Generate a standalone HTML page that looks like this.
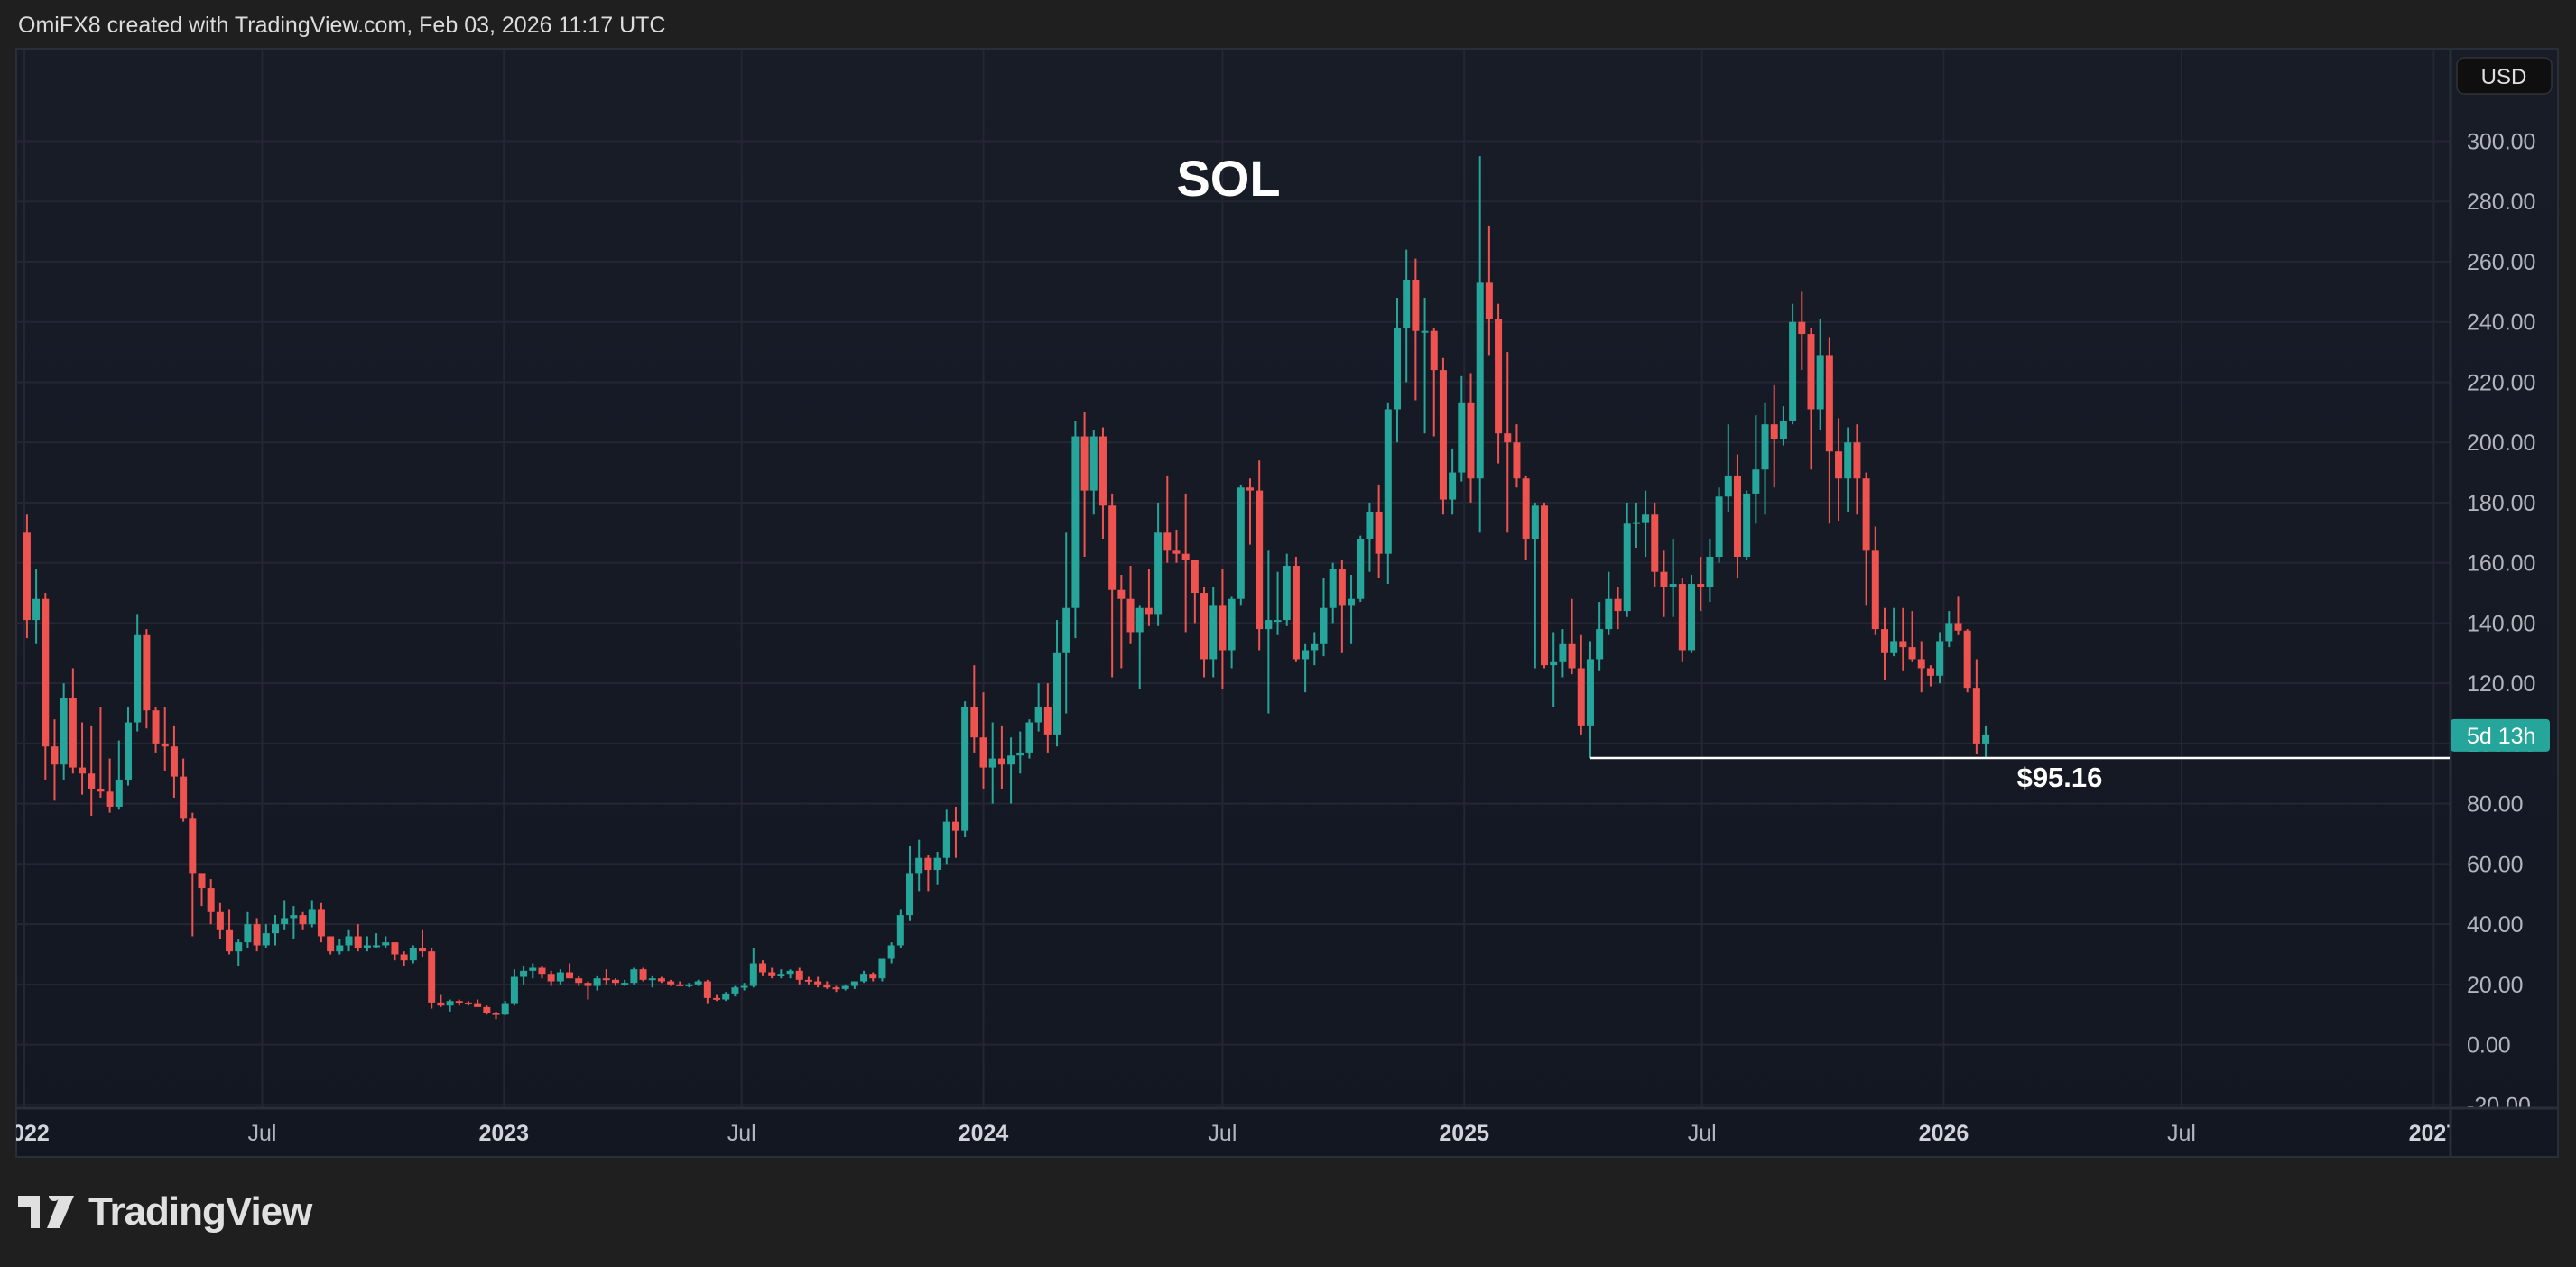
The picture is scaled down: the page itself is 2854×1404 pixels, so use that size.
<!DOCTYPE html>
<html><head><meta charset="utf-8"><style>
html,body{margin:0;padding:0;background:#1f1f1f;}
body{width:2854px;height:1404px;overflow:hidden;position:relative;font-family:"Liberation Sans",sans-serif;}
#hdr{position:absolute;left:20px;top:14px;font-size:25px;color:#dcdcdc;}
#logo{position:absolute;left:20px;top:1318px;display:flex;align-items:center;}
#logo span{font-size:44px;font-weight:bold;color:#e0e0e0;margin-left:14px;letter-spacing:-1px;}
</style></head><body>
<div id="hdr">OmiFX8 created with TradingView.com, Feb 03, 2026 11:17 UTC</div>
<svg id="chart" width="2854" height="1404" style="position:absolute;left:0;top:0" xmlns="http://www.w3.org/2000/svg">
<defs>
<linearGradient id="bg" x1="0" y1="0" x2="0" y2="1"><stop offset="0" stop-color="#181c27"/><stop offset="1" stop-color="#131722"/></linearGradient>
<clipPath id="plotclip"><rect x="18" y="55" width="2696" height="1172"/></clipPath>
<clipPath id="axclip"><rect x="2715" y="55" width="118" height="1172"/></clipPath>
<clipPath id="tclip"><rect x="18" y="1228" width="2696" height="53"/></clipPath>
</defs>
<rect x="18" y="54" width="2816" height="1228" fill="url(#bg)" stroke="#2a2e39" stroke-width="2"/>
<g id="grid" clip-path="url(#plotclip)"></g>
<g id="candles" clip-path="url(#plotclip)"></g>
<g id="yaxis" clip-path="url(#axclip)"></g>
<g id="xaxis" clip-path="url(#tclip)"></g>
<g id="anno"></g>
</svg>
<div id="logo">
<svg width="64" height="36" viewBox="0 0 64 36"><path d="M0 0H24V36H14V12H0Z M34 0a6 6 0 1 1 0 .1Z M46 0H62L46 36H32Z" fill="#e0e0e0"/></svg>
<span>TradingView</span></div>
<script>
// weekly candles starting Monday 2022-01-03
const firstOpen = 170;
const highs = [
176,158,150,108,120,125,107,106,112,95,101,112,143,138,112,112,106,95,77,57,55,47,45,35,44,42,40,43,48,46,44,48,47,36,35,38,40,36,37,36,34,31,33,38,32,16.5,15,15,14.5,15,13,11,
14.5,25,26,27,26,24.5,25,27,23,21,23,25,22,21.5,25.5,25.5,23,22.5,21.5,21,20.5,21.5,21.5,16.5,17.5,19.5,20.5,32,28,25.5,25,25,25.5,22.5,22.5,21,19.5,20,21,24.5,24,28.5,34,45,66,68,63,64,78,79,114,126,
117,107,106,102,104,108,120,120,141,170,207,210,204,205,183,156,159,146,158,180,189,171,183,161,152,152,158,149,186,188,194,164,157,163,162,133,137,155,160,161,156,169,180,186,213,248,264,261,248,238,228,198,222,
223,295,272,246,230,206,189,180,180,137,138,148,136,134,147,157,152,180,180,184,180,164,168,155,156,162,168,185,206,196,184,209,213,219,212,246,250,238,241,235,208,205,206,190,172,145,145,145,144,134,126,137,
144,149,138,128,106];
const lows = [
135,133,88,81,88,90,83,76,82,77,78,86,104,105,97,91,82,74,36,46,40,35,30,26,32,31,32,33,38,35,38,39,34,30,30,31,31,31,32,32,28,26,27,29,12,12.5,11,13,13,12.5,10,8.5,
9.8,13,20,22,22,19.5,20,22,19.5,15,18,20,19.5,19.5,20,21,19,20.5,19.5,19.5,19,19.5,13.5,14.5,14.5,16,18,19,23,22,22,22,20,20,19,18.5,17.5,18,18.5,20.5,21,21,27,32,41,51,51,53,60,62,69,97,
85,80,85,80,90,95,104,97,99,110,135,162,176,168,122,125,133,118,139,139,160,160,137,140,122,122,118,125,146,166,131,110,136,139,127,117,126,129,140,130,133,147,157,155,153,200,220,214,203,202,176,176,187,
180,170,229,193,170,185,161,125,125,112,122,123,103,95.16,124,136,138,142,165,162,152,142,142,127,130,144,147,160,177,155,161,173,176,185,199,206,224,191,204,173,174,177,176,146,136,121,129,124,127,117,119,120,
132,136,117,96.5,95.5];
const closes = [
141,148,99,93,115,92,90,85,84,79,88,107,136,111,100,99,89,75,57,52,44,38,31,34,40,33,37,40,42,43,40,45,36,31,33,36,32,33,33,34,30,28,32,31,14,13,14.5,14,13.5,12.5,10.5,10,
13.5,22.5,24.5,25.5,23.5,21,24,22,20.5,19.5,22,21.5,20.5,20.5,25,21.5,22,21,20,19.5,20,21,15.5,15,17,19,19.5,27,24,23,23.5,24.5,21.5,21,20,19,18.5,19.5,21,23.5,22,28.5,33,43,57,62,58,62,74,71,112,102,
92,95,93,96,97,107,112,103,130,145,202,184,202,179,151,148,137,145,143,170,164,163,161,150,128,146,131,148,185,184,138,141,141,159,128,131,133,145,158,146,148,168,177,163,211,238,254,237,237,224,181,190,213,
188,253,241,203,200,188,168,179,126,127,133,125,106,128,138,148,144,173,173.5,176,157,152,153,131,153,152,162,182,189,162,183,191,206,201,207,240,236,211,229,197,188,200,188,164,138,130,134,132,128,125,122.5,134,
140,137.5,118.5,100,103];
const priceTicks = [-20,0,20,40,60,80,100,120,140,160,180,200,220,240,260,280,300];
const timeTicks = ['2022-01-01','2022-07-01','2023-01-01','2023-07-01','2024-01-01','2024-07-01','2025-01-01','2025-07-01','2026-01-01','2026-07-01','2027-01-09'];
const timeTickLabels = ['2022','Jul','2023','Jul','2024','Jul','2025','Jul','2026','Jul','2027'];
const supportLevel = 95.16;
const supportStart = '2025-04-07';
const startDate = '2022-01-03';
const countdownText = '5d 13h';

const NS='http://www.w3.org/2000/svg';
const DAY=86400000, T0=Date.UTC(2022,0,1);
function days(s){const p=s.split('-');return (Date.UTC(+p[0],+p[1]-1,+p[2])-T0)/DAY;}
function xScale(d){return 27+d*1.4555;}
function yScale(v){return 1157.6-v*3.337;}
function mk(tag,attrs,parent){const e=document.createElementNS(NS,tag);for(const k in attrs)e.setAttribute(k,attrs[k]);parent.appendChild(e);return e;}
const grid=document.getElementById('grid'),cg=document.getElementById('candles'),ya=document.getElementById('yaxis'),xa=document.getElementById('xaxis'),an=document.getElementById('anno');

priceTicks.forEach(v=>{
  const y=yScale(v);
  const gl=mk('line',{x1:18,x2:2714,y1:y,y2:y,stroke:'#242733','stroke-width':2},grid);
  
  
  const t=mk('text',{x:2733,y:y+9,fill:'#b2b5be','font-size':25,'font-family':'Liberation Sans, sans-serif'},ya);
  t.textContent=v.toFixed(2);
  
  
});
timeTicks.forEach((d,i)=>{
  const x=xScale(days(d));
  const gl=mk('line',{x1:x,x2:x,y1:55,y2:1227,stroke:'#242733','stroke-width':2},grid);
  
  
  const yr=timeTickLabels[i]!=='Jul';
  const t=mk('text',{x:x,y:1264,fill:yr?'#d1d4dc':'#b2b5be','font-size':25,'font-weight':yr?'bold':'normal','text-anchor':'middle','font-family':'Liberation Sans, sans-serif'},xa);
  t.textContent=timeTickLabels[i];
  
  
});
let sep=mk('line',{x1:2715,x2:2715,y1:54,y2:1281,stroke:'#2a2e39','stroke-width':3},an);


sep=mk('line',{x1:18,x2:2833,y1:1228,y2:1228,stroke:'#2a2e39','stroke-width':3},an);



const d0=days(startDate);
for(let i=0;i<closes.length;i++){
  const o=i===0?firstOpen:closes[i-1], c=closes[i], h=highs[i], l=lows[i];
  const x=xScale(d0+7*i);
  const col=c>=o?'#26a69a':'#ef5350';
  const g=mk('g',{},cg);
  
  
  mk('rect',{x:x-1,y:yScale(h),width:2,height:Math.max(1,yScale(l)-yScale(h)),fill:col},g);
  const top=yScale(Math.max(o,c)),bot=yScale(Math.min(o,c));
  mk('rect',{x:x-4,y:top,width:8,height:Math.max(2,bot-top),fill:col},g);
}

const sy=yScale(supportLevel), sx=xScale(days(supportStart));
const sl=mk('line',{x1:sx,x2:2714,y1:sy,y2:sy,stroke:'#ffffff','stroke-width':2.5},an);


const st=mk('text',{x:2282,y:sy+32,fill:'#ffffff','font-size':31,'font-weight':'bold','text-anchor':'middle','font-family':'Liberation Sans, sans-serif'},an);
st.textContent='$'+supportLevel.toFixed(2);



const tt=mk('text',{x:1361,y:217,fill:'#ffffff','font-size':56,'font-weight':'bold','text-anchor':'middle','font-family':'Liberation Sans, sans-serif'},an);
tt.textContent='SOL';



const lastClose=closes[closes.length-1];
const by=yScale(lastClose);
const bg=mk('g',{},an);


mk('rect',{x:2715,y:by-17,width:110,height:36,rx:4,fill:'#26a69a'},bg);
const bt=mk('text',{x:2733,y:by+10,fill:'#ffffff','font-size':25,'font-family':'Liberation Sans, sans-serif'},bg);
bt.textContent=countdownText;

const ub=mk('g',{},an);


mk('rect',{x:2722,y:64,width:105,height:40,rx:8,fill:'#0f0f0f',stroke:'#333','stroke-width':1.5},ub);
const ut=mk('text',{x:2774,y:93,fill:'#e0e0e0','font-size':24,'text-anchor':'middle','font-family':'Liberation Sans, sans-serif'},ub);
ut.textContent='USD';
</script>
</body></html>
